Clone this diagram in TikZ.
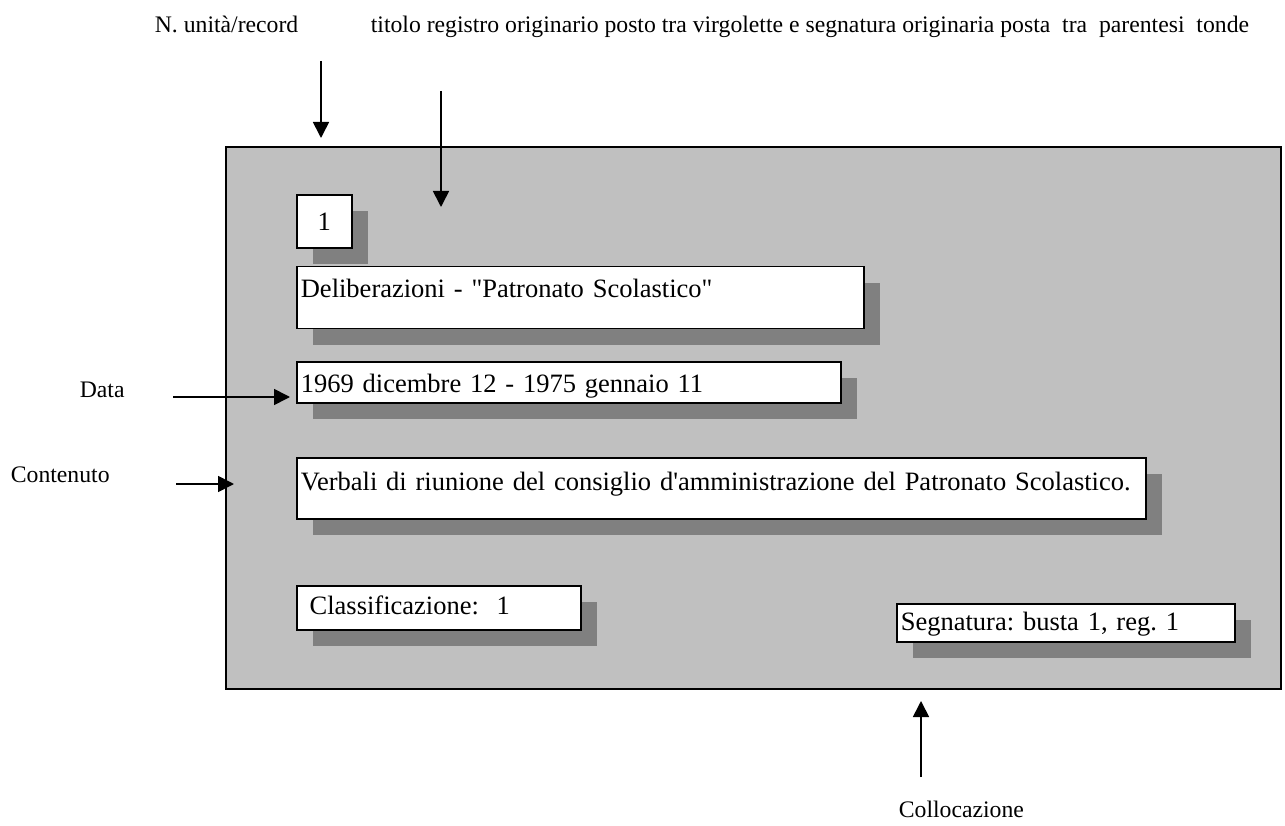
\documentclass[tikz,border=0pt]{standalone}
\usepackage{fontspec}
\setmainfont{Liberation Serif}[Ligatures=TeXOff]
\usetikzlibrary{arrows.meta,positioning,shadows}
\definecolor{panelgray}{HTML}{C0C0C0}
\definecolor{shadowgray}{HTML}{808080}
\newcommand{\campofont}{\fontsize{26.5}{31}\selectfont}
\newcommand{\etichettafont}{\fontsize{23.7}{28}\selectfont}
\frenchspacing

\begin{document}
\begin{tikzpicture}[x=1pt,y=-1pt,->,>={Triangle[width=16pt,length=16pt]},
                    line width=1.7pt,
                    campo/.style={draw,fill=white,font=\campofont,align=left,
                      inner xsep=4pt,inner ysep=0pt,anchor=north west,
                      drop shadow={shadow xshift=16pt,shadow yshift=-16pt,
                        fill=shadowgray,opacity=1}},
                    etichetta/.style={font=\etichettafont,inner sep=0pt,
                      anchor=base west}]

  \useasboundingbox (0,0) rectangle (1285,826);

  % scheda
  \node[draw,fill=panelgray,inner sep=0pt,anchor=north west,
        minimum width=1055pt,minimum height=542pt] (scheda) at (225,146) {};

  % campi
  \node[campo,align=center,text width=47pt,text height=36pt,text depth=17pt]
        (numero) at (296,194) {1};
  \node[campo,text width=559pt,text height=31pt,text depth=31pt]
        (titolo) [below=17pt of numero.south west,anchor=north west]
        {Deliberazioni - "Patronato Scolastico"};
  \node[campo,text width=536pt,text height=30pt,text depth=11pt]
        (data) [below=32pt of titolo.south west,anchor=north west]
        {1969 dicembre 12 - 1975 gennaio 11};
  \node[campo,text width=841pt,text height=33pt,text depth=28pt]
        (contenuto) [below=53pt of data.south west,anchor=north west]
        {Verbali di riunione del consiglio d'amministrazione del Patronato Scolastico.};
  \node[campo,text width=276pt,text height=29pt,text depth=15pt]
        (classif) [below=65pt of contenuto.south west,anchor=north west]
        {\ Classificazione:\ \ 1};
  \node[campo,text width=330pt,text height=27pt,text depth=11pt]
        (segnatura) at (896,603) {Segnatura: busta 1, reg. 1};

  % etichette
  \node[etichetta] (lnumero) at (154,33) {N. unità/record};
  \node[etichetta] (ltitolo) at (370,33)
        {titolo registro originario posto tra virgolette e segnatura originaria posta\ \ tra\ \ parentesi\ \ tonde};
  \node[etichetta] (ldata) at (79,397) {Data};
  \node[etichetta] (lcontenuto) at (10,482) {Contenuto};
  \node[etichetta] (lcollocazione) at (898,817) {Collocazione};

  % frecce
  \coordinate (numA) at (321,61);
  \coordinate (numB) at (321,138);
  \coordinate (titA) at (441,91);
  \coordinate (titB) at (441,207);
  \coordinate (datA) at (173,397);
  \coordinate (datB) at (290,397);
  \coordinate (conA) at (176,484);
  \coordinate (conB) at (234,484);
  \coordinate (colA) at (921,777);
  \coordinate (colB) at (921,701);

  \draw (numA) -- (numB);
  \draw (titA) -- (titB);
  \draw (datA) -- (datB);
  \draw (conA) -- (conB);
  \draw (colA) -- (colB);
\end{tikzpicture}
\end{document}
